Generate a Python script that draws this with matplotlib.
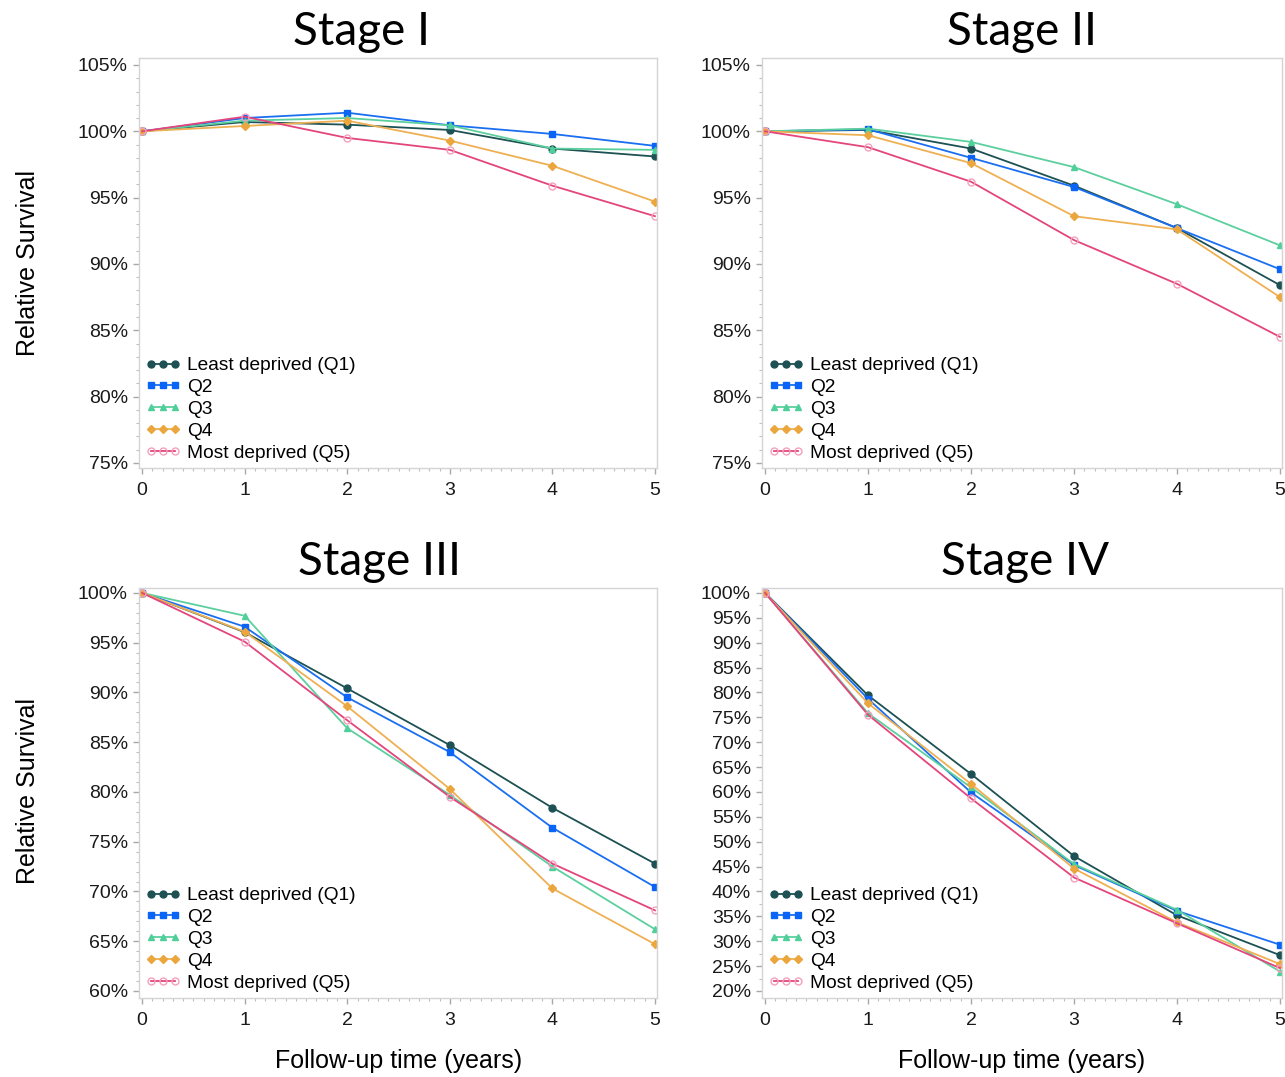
import matplotlib
matplotlib.use("Agg")
import matplotlib.pyplot as plt
from matplotlib.ticker import MultipleLocator, FuncFormatter

years = [0, 1, 2, 3, 4, 5]
groups = ["Least deprived (Q1)", "Q2", "Q3", "Q4", "Most deprived (Q5)"]

# relative survival (%), one list per deprivation quintile
stage1_q1 = [100, 100.7, 100.5, 100.1, 98.7, 98.1]
stage1_q2 = [100, 101.0, 101.4, 100.45, 99.8, 98.9]
stage1_q3 = [100, 100.8, 101.0, 100.45, 98.7, 98.6]
stage1_q4 = [100, 100.4, 100.8, 99.3, 97.4, 94.7]
stage1_q5 = [100, 101.1, 99.5, 98.6, 95.9, 93.6]

stage2_q1 = [100, 100.1, 98.7, 95.9, 92.7, 88.4]
stage2_q2 = [100, 100.15, 98.0, 95.8, 92.7, 89.6]
stage2_q3 = [100, 100.2, 99.2, 97.3, 94.5, 91.4]
stage2_q4 = [100, 99.7, 97.6, 93.6, 92.6, 87.5]
stage2_q5 = [100, 98.8, 96.2, 91.8, 88.5, 84.5]

stage3_q1 = [100, 96.05, 90.4, 84.7, 78.4, 72.8]
stage3_q2 = [100, 96.6, 89.5, 84.0, 76.4, 70.45]
stage3_q3 = [100, 97.7, 86.4, 79.7, 72.5, 66.2]
stage3_q4 = [100, 96.1, 88.6, 80.3, 70.3, 64.7]
stage3_q5 = [100, 95.1, 87.2, 79.5, 72.8, 68.1]

stage4_q1 = [100, 79.4, 63.6, 47.1, 35.2, 27.2]
stage4_q2 = [100, 78.7, 59.9, 45.3, 36.1, 29.3]
stage4_q3 = [100, 75.8, 60.9, 45.5, 36.3, 23.9]
stage4_q4 = [100, 77.8, 61.6, 44.6, 33.8, 25.4]
stage4_q5 = [100, 75.5, 58.7, 42.8, 33.6, 24.6]

panels = [
    ("Stage I", [stage1_q1, stage1_q2, stage1_q3, stage1_q4, stage1_q5]),
    ("Stage II", [stage2_q1, stage2_q2, stage2_q3, stage2_q4, stage2_q5]),
    ("Stage III", [stage3_q1, stage3_q2, stage3_q3, stage3_q4, stage3_q5]),
    ("Stage IV", [stage4_q1, stage4_q2, stage4_q3, stage4_q4, stage4_q5]),
]

# line colour, marker, marker size, marker face, marker edge
styles = [
    ("#1d5153", "o", 5.0, "#1d5153", "#1d5153"),
    ("#1a6ff0", "s", 5.0, "#0a64f5", "#0a64f5"),
    ("#5ccf9e", "^", 5.0, "#4fcf99", "#4fcf99"),
    ("#eeb052", "D", 3.6, "#eca63e", "#eca63e"),
    ("#e3457c", "o", 5.0, "none", "#f4a0bc"),
]

# axes placement (figure fractions), y-limits, tick steps, title x (axes frac)
layout = [
    ([0.1082, 0.5655, 0.4031, 0.3807], (74.62, 105.53), 5, 1, 0.429),
    ([0.5930, 0.5655, 0.4047, 0.3807], (74.62, 105.53), 5, 1, 0.500),
    ([0.1082, 0.0734, 0.4031, 0.3807], (59.30, 100.50), 5, 1, 0.465),
    ([0.5930, 0.0734, 0.4047, 0.3807], (18.60, 101.00), 5, 2.5, 0.506),
]

TICK = "Liberation Sans"
FRAME = "#d4d4d4"

fig = plt.figure(figsize=(12.85, 10.77), dpi=100)

for (title, series), (rect, ylim, major, minor, tx) in zip(panels, layout):
    ax = fig.add_axes(rect)
    for vals, name, (lc, mk, ms, mfc, mec) in zip(series, groups, styles):
        ax.plot(years, vals, color=lc, linewidth=1.3, marker=mk,
                markersize=ms, markerfacecolor=mfc, markeredgecolor=mec,
                markeredgewidth=1.0, label=name)

    ax.set_xlim(-0.03, 5.02)
    ax.set_ylim(*ylim)
    ax.xaxis.set_major_locator(MultipleLocator(1))
    ax.xaxis.set_minor_locator(MultipleLocator(0.1))
    ax.yaxis.set_major_locator(MultipleLocator(major))
    ax.yaxis.set_minor_locator(MultipleLocator(minor))
    ax.yaxis.set_major_formatter(FuncFormatter(lambda v, p: f"{v:.0f}%"))

    for s in ax.spines.values():
        s.set_color(FRAME)
        s.set_linewidth(1.0)
    ax.tick_params(which="major", length=4, width=1.0, color="#a8a8a8",
                   labelsize=14, labelcolor="#1a1a1a", pad=4)
    ax.tick_params(which="minor", length=2.5, width=0.8, color="#bdbdbd")
    ax.tick_params(axis="x", which="major", pad=6)
    for lab in ax.get_xticklabels() + ax.get_yticklabels():
        lab.set_fontfamily(TICK)

    ax.text(tx, 1.012, title, transform=ax.transAxes, ha="center",
            va="bottom", fontsize=33, family="Lato", color="black")

    leg = ax.legend(loc="lower left", bbox_to_anchor=(-0.017, -0.022),
                    frameon=False, numpoints=3, handlelength=1.85,
                    handletextpad=0.3, labelspacing=0.23, borderpad=0.3,
                    prop={"family": TICK, "size": 13.8})

fig.text(0.022, 0.756, "Relative Survival", rotation=90, ha="center",
         va="center", fontsize=18, family=TICK)
fig.text(0.022, 0.266, "Relative Survival", rotation=90, ha="center",
         va="center", fontsize=18, family=TICK)
fig.text(0.310, 0.015, "Follow-up time (years)", ha="center", va="center",
         fontsize=18, family=TICK)
fig.text(0.795, 0.015, "Follow-up time (years)", ha="center", va="center",
         fontsize=18, family=TICK)

fig.savefig("out.png", dpi=100, facecolor="white")
